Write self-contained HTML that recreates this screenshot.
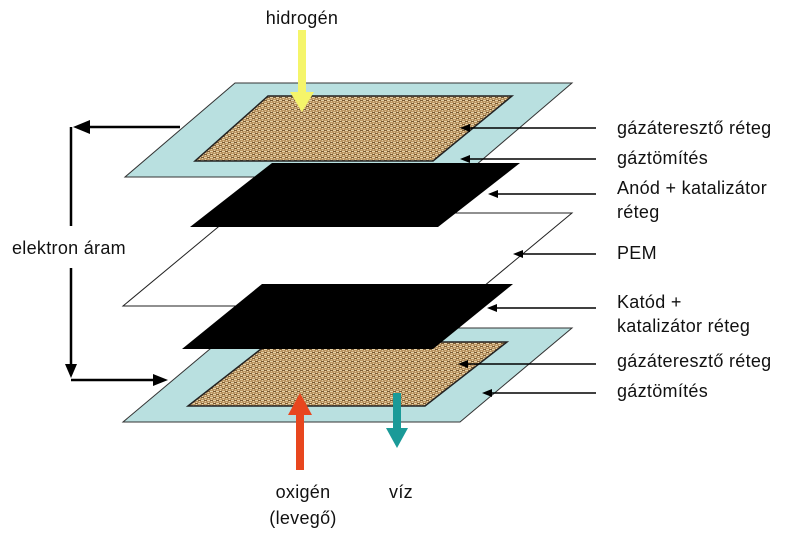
<!DOCTYPE html>
<html><head><meta charset="utf-8"><style>
html,body{margin:0;padding:0;background:#fff;}
svg{display:block;}
text{font-family:"Liberation Sans",sans-serif;font-size:18px;letter-spacing:0.3px;fill:#111;}
</style></head><body>
<svg width="800" height="547" viewBox="0 0 800 547" xmlns="http://www.w3.org/2000/svg">
<defs>
<pattern id="burlap" width="6" height="6" patternUnits="userSpaceOnUse">
<rect width="6" height="6" fill="#b48c58"/>
<path d="M0 1.5H3M3 4.5H6M1.5 3V6M4.5 0V3" stroke="#e6d2a8" stroke-width="1.3"/>
<path d="M3 1.5H6M0 4.5H3" stroke="#7a5a32" stroke-width="0.9"/>
</pattern>
</defs>
<polygon points="235,83 572,83 462,177 125,177" fill="#b9e0e0" stroke="#333" stroke-width="1"/>
<polygon points="268,96 512,96 433,161 195,161" fill="url(#burlap)" stroke="#222" stroke-width="1.5"/>
<polygon points="235,213 572,213 460,306 123,306" fill="#fff" stroke="#222" stroke-width="1"/>
<polygon points="272,163 520,163 438,227 190,227" fill="#000"/>
<polygon points="235,328 572,328 460,422 123,422" fill="#b9e0e0" stroke="#333" stroke-width="1"/>
<polygon points="270,342 507,342 425,406 188,406" fill="url(#burlap)" stroke="#222" stroke-width="1.5"/>
<polygon points="262,284 513,284 433,349 182,349" fill="#000"/>

<g stroke="#000" stroke-width="1.5" fill="#000">
<line x1="468" y1="128" x2="596" y2="128"/><polygon points="460,128 470,124 470,132" stroke="none"/>
<line x1="468" y1="159" x2="596" y2="159"/><polygon points="460,159 470,155 470,163" stroke="none"/>
<line x1="496" y1="194" x2="596" y2="194"/><polygon points="488,194 498,190 498,198" stroke="none"/>
<line x1="521" y1="254" x2="596" y2="254"/><polygon points="513,254 523,250 523,258" stroke="none"/>
<line x1="495" y1="308" x2="596" y2="308"/><polygon points="487,308 497,304 497,312" stroke="none"/>
<line x1="466" y1="364" x2="596" y2="364"/><polygon points="458,364 468,360 468,368" stroke="none"/>
<line x1="490" y1="393" x2="596" y2="393"/><polygon points="482,393 492,389 492,397" stroke="none"/>
</g>

<g stroke="#000" stroke-width="2.5" fill="#000">
<line x1="180" y1="127" x2="85" y2="127"/><polygon points="73,127 90,120 90,134" stroke="none"/>
<line x1="71" y1="127" x2="71" y2="226"/>
<line x1="71" y1="268" x2="71" y2="366"/><polygon points="71,378 65,364 77,364" stroke="none"/>
<line x1="71" y1="380" x2="155" y2="380"/><polygon points="168,380 153,374 153,386" stroke="none"/>
</g>
<text x="12" y="254">elektron áram</text>

<rect x="298" y="30" width="8" height="66" fill="#f5f56a"/>
<polygon points="290,92 314,92 302,112" fill="#f5f56a"/>
<rect x="296" y="412" width="8" height="58" fill="#e8461e"/>
<polygon points="288,415 312,415 300,393" fill="#e8461e"/>
<rect x="393" y="393" width="8" height="38" fill="#1a9a98"/>
<polygon points="386,428 408,428 397,448" fill="#1a9a98"/>

<text x="302" y="24" text-anchor="middle">hidrogén</text>
<text x="303" y="498" text-anchor="middle">oxigén</text>
<text x="303" y="524" text-anchor="middle">(levegő)</text>
<text x="401" y="498" text-anchor="middle">víz</text>
<g>
<text x="617" y="134">gázáteresztő réteg</text>
<text x="617" y="164">gáztömítés</text>
<text x="617" y="194">Anód + katalizátor</text>
<text x="617" y="218">réteg</text>
<text x="617" y="259">PEM</text>
<text x="617" y="308">Katód +</text>
<text x="617" y="332">katalizátor réteg</text>
<text x="617" y="367">gázáteresztő réteg</text>
<text x="617" y="397">gáztömítés</text>
</g>
</svg>
</body></html>
